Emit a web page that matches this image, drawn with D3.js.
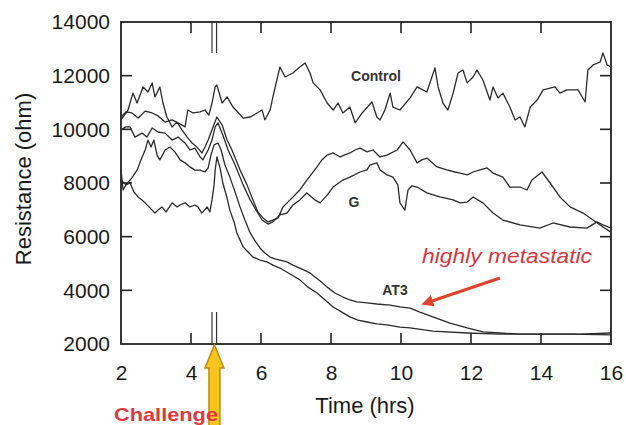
<!DOCTYPE html>
<meta charset="utf-8">
<head>
  <title>Resistance over time</title>
</head>

<style>
body { margin: 0; background: #fff; }
text { font-family: "Liberation Sans", Arial, sans-serif; fill: #1a1a1a; }
.trace { fill: none; stroke: #2b2b2b; stroke-width: 1.3; stroke-linejoin: round; }
.axis path { display: none; }
.axis text { font-size: 21px; fill: #1a1a1a; }
.tick-mark { stroke: #222; stroke-width: 1.6; }
</style>

<body>
  <svg width="626" height="425">
    <defs>
      <marker id="redhead" viewBox="0 0 10 10" refX="6" refY="5" markerWidth="4" markerHeight="4" orient="auto">
        <path d="M0,0 L10,5 L0,10 Z" fill="#e0432c"></path>
      </marker>
    </defs>
    <g></g>
  </svg>

  <script src="https://cdnjs.cloudflare.com/ajax/libs/d3/7.8.5/d3.min.js"></script>
  <script>

// ticks
var xTicks = [2, 4, 6, 8, 10, 12, 14, 16];
var yTicks = [2000, 4000, 6000, 8000, 10000, 12000, 14000];

// challenge given at ~4.6 hrs (double marks at top and bottom)
var challengeHrs = [4.6, 4.73];

// series: [hours, ohm]
var control = [[2.00,10460],[2.14,10650],[2.31,10610],[2.49,10420],[2.69,10680],[2.89,10610],[3.06,10500],
  [3.26,10270],[3.46,10350],[3.63,10240],[3.83,10090],[3.91,10720],[4.06,10610],[4.26,10650],[4.40,10720],
  [4.51,10530],[4.60,10980],[4.69,11580],[4.74,11650],[4.89,10980],[5.03,11210],[5.20,10830],[5.49,10420],
  [5.69,10460],[5.89,10610],[6.03,10720],[6.11,10350],[6.26,10720],[6.34,11210],[6.54,12320],[6.69,11950],
  [6.91,12100],[7.11,12320],[7.26,12470],[7.40,12100],[7.49,11730],[7.69,11470],[7.89,10980],[8.06,10720],
  [8.20,10980],[8.34,10610],[8.54,10830],[8.69,10240],[8.89,10610],[9.17,11020],[9.31,10460],[9.40,10350],
  [9.54,10720],[9.69,11350],[9.77,10830],[9.97,10720],[10.26,11170],[10.46,11580],[10.74,11390],[10.97,12290],
  [11.06,11580],[11.20,10980],[11.34,10720],[11.49,11350],[11.63,12100],[11.77,12210],[11.89,11730],
  [12.06,11950],[12.17,12210],[12.34,11840],[12.54,11090],[12.63,11580],[12.77,11170],[12.91,11350],
  [13.11,10830],[13.26,10350],[13.40,10460],[13.54,10090],[13.69,10830],[13.89,11090],[14.06,11470],
  [14.40,11580],[14.54,11350],[14.74,11470],[15.06,11470],[15.26,11020],[15.34,12210],[15.49,12400],
  [15.69,12510],[15.77,12850],[15.89,12400],[16.00,12320]];

var gUpper = [[2.00,10350],[2.20,10720],[2.34,11350],[2.46,10980],[2.63,11580],[2.77,11390],[2.89,11730],
  [2.97,11210],[3.11,11580],[3.20,10980],[3.31,10460],[3.46,10090],[3.60,10270],[3.74,9980],[3.89,9710],
  [4.03,9490],[4.17,9340],[4.31,9120],[4.40,9340],[4.49,9600],[4.63,10090],[4.74,10460],[4.89,10160],
  [5.03,9600],[5.17,9230],[5.40,8490],[5.60,7930],[5.77,7370],[5.91,6920],[6.06,6700],[6.20,6550],
  [6.34,6620],[6.49,6700],[6.63,7110],[6.83,7370],[7.11,7740],[7.31,8110],[7.60,8600],[7.74,8860],
  [7.89,9040],[8.06,9120],[8.26,8970],[8.54,9120],[8.69,9230],[8.83,9300],[9.03,9160],[9.20,9230],
  [9.40,8970],[9.60,9040],[9.89,9230],[10.06,9530],[10.26,9230],[10.46,8750],[10.60,8860],[10.74,8930],
  [11.03,8600],[11.31,8490],[11.54,8410],[11.69,8370],[11.89,8300],[12.06,8410],[12.26,8490],[12.46,8560],
  [12.63,8370],[12.91,8220],[13.11,7850],[13.40,7850],[13.60,7740],[13.74,8110],[14.03,8410],[14.26,8000],
  [14.54,7480],[14.83,7110],[15.20,6880],[15.49,6620],[15.77,6360],[16.00,6170]];

var gLower = [[2.00,9980],[2.14,10090],[2.26,10090],[2.40,9710],[2.60,9860],[2.74,9710],[2.89,10050],
  [3.06,9900],[3.26,9860],[3.46,9600],[3.63,9710],[3.83,9490],[3.97,9230],[4.11,9300],[4.26,8970],
  [4.34,8860],[4.49,9230],[4.60,9600],[4.69,10090],[4.77,10240],[4.91,9790],[5.06,9230],[5.26,8670],
  [5.49,7930],[5.69,7370],[5.89,6920],[6.03,6620],[6.20,6470],[6.34,6550],[6.54,6810],[6.74,6880],
  [6.91,7180],[7.11,7370],[7.31,7630],[7.54,7370],[7.69,7260],[7.89,7550],[8.06,7850],[8.34,8110],
  [8.54,8220],[8.83,8410],[9.03,8490],[9.11,8670],[9.31,8750],[9.40,8490],[9.60,8300],[9.77,8220],
  [9.91,7930],[9.97,7260],[10.11,6990],[10.20,7740],[10.31,7890],[10.46,7850],[10.74,7630],[11.11,7480],
  [11.49,7370],[11.69,7260],[11.89,7290],[12.06,7480],[12.34,7260],[12.63,6880],[12.91,6620],[13.40,6440],
  [13.97,6320],[14.34,6510],[14.83,6360],[15.31,6320],[15.60,6550],[15.77,6440],[16.00,6320]];

var at3Upper = [[2.00,8110],[2.14,7930],[2.31,8190],[2.46,8480],[2.57,8860],[2.69,9230],[2.77,9600],
  [2.86,9340],[2.94,9600],[3.03,9040],[3.11,8860],[3.26,9230],[3.40,9340],[3.54,9160],[3.69,8860],
  [3.83,8750],[3.97,8600],[4.11,8480],[4.26,8480],[4.40,8410],[4.49,8560],[4.57,9040],[4.66,9420],
  [4.77,9490],[4.86,9230],[4.97,8670],[5.11,8220],[5.26,7660],[5.40,7110],[5.54,6620],[5.69,6140],
  [5.83,5840],[5.97,5580],[6.11,5390],[6.26,5240],[6.40,5170],[6.54,5130],[6.74,5060],[6.91,4940],
  [7.11,4830],[7.40,4650],[7.69,4350],[7.89,4120],[8.11,3900],[8.34,3750],[8.54,3640],[8.74,3570],
  [9.03,3530],[9.31,3490],[9.69,3450],[9.97,3380],[10.26,3340],[10.54,3190],[10.91,3010],[11.40,2780],
  [11.89,2600],[12.34,2450],[12.83,2410],[13.40,2370],[14.26,2370],[15.11,2370],[16.00,2410]];

var at3Lower = [[2.00,8480],[2.06,7740],[2.14,7930],[2.26,8000],[2.37,7660],[2.49,7480],[2.60,7370],
  [2.69,7260],[2.80,7110],[2.89,6990],[2.97,6880],[3.06,6990],[3.17,7110],[3.29,6920],[3.46,7260],
  [3.60,7110],[3.69,7180],[3.83,7260],[3.97,7110],[4.11,7180],[4.20,7110],[4.31,6880],[4.46,7110],
  [4.54,6920],[4.60,7370],[4.66,7930],[4.69,8480],[4.74,8970],[4.83,8560],[4.91,8000],[5.03,7440],
  [5.11,6990],[5.23,6550],[5.31,6140],[5.40,5880],[5.49,5620],[5.63,5430],[5.77,5240],[5.97,5130],
  [6.17,5060],[6.34,4940],[6.54,4830],[6.83,4610],[7.11,4390],[7.34,4120],[7.60,3900],[7.83,3640],
  [8.06,3380],[8.31,3190],[8.54,3010],[8.77,2890],[9.03,2820],[9.31,2750],[9.60,2710],[9.97,2630],
  [10.26,2600],[10.91,2480],[11.89,2410],[12.83,2370],[13.77,2370],[14.83,2370],[16.00,2340]];

var series = [control, gUpper, gLower, at3Upper, at3Lower];

var x = d3.scaleLinear().domain([2, 16]).range([121, 611]);
var y = d3.scaleLinear().domain([2000, 14000]).range([344, 22]);

var svg = d3.select('svg');
var g = svg.select('g');

// tick labels from the axes, tick marks drawn as inward lines below
g.append('g').attr('class', 'axis')
  .attr('transform', 'translate(0,' + y(2000) + ')')
  .call(d3.axisBottom(x).tickValues(xTicks).tickSize(0).tickPadding(21).tickFormat(d3.format('d')));

g.append('g').attr('class', 'axis')
  .attr('transform', 'translate(' + x(2) + ',0)')
  .call(d3.axisLeft(y).tickValues(yTicks).tickSize(0).tickPadding(11).tickFormat(d3.format('d')));

var innerX = xTicks.slice(1, -1);
var innerY = yTicks.slice(1, -1);
var tickLen = 11;

// bottom + top
[y(2000), y(14000)].forEach(function(yy, i) {
  g.selectAll(null).data(innerX).enter().append('line')
    .attr('class', 'tick-mark')
    .attr('x1', function(d) { return x(d); }).attr('x2', function(d) { return x(d); })
    .attr('y1', yy).attr('y2', i === 0 ? yy - tickLen : yy + tickLen);
});
// left + right
[x(2), x(16)].forEach(function(xx, i) {
  g.selectAll(null).data(innerY).enter().append('line')
    .attr('class', 'tick-mark')
    .attr('y1', function(d) { return y(d); }).attr('y2', function(d) { return y(d); })
    .attr('x1', xx).attr('x2', i === 0 ? xx + tickLen : xx - tickLen);
});

// frame
g.append('rect')
  .attr('x', x(2)).attr('y', y(14000))
  .attr('width', x(16) - x(2)).attr('height', y(2000) - y(14000))
  .attr('fill', 'none').attr('stroke', '#222').attr('stroke-width', 1.8);

// challenge double marks
challengeHrs.forEach(function(h) {
  g.append('line').attr('x1', x(h)).attr('x2', x(h)).attr('y1', y(14000)).attr('y2', y(14000) + 31)
    .attr('stroke', '#333').attr('stroke-width', 1.2);
  g.append('line').attr('x1', x(h)).attr('x2', x(h)).attr('y1', y(2000)).attr('y2', y(2000) - 32)
    .attr('stroke', '#333').attr('stroke-width', 1.2);
});

var line = d3.line()
  .x(function(d) { return x(d[0]); })
  .y(function(d) { return y(d[1]); });

g.selectAll('path.trace')
  .data(series)
  .enter()
  .append('path')
  .attr('class', 'trace')
  .attr('d', line);

// curve labels
g.append('text').attr('x', 376).attr('y', 81).attr('text-anchor', 'middle')
  .style('font-size', '14px').style('font-weight', 'bold').style('fill', '#333').text('Control');
g.append('text').attr('x', 354).attr('y', 207).attr('text-anchor', 'middle')
  .style('font-size', '14px').style('font-weight', 'bold').style('fill', '#333').text('G');
g.append('text').attr('x', 395).attr('y', 295).attr('text-anchor', 'middle')
  .style('font-size', '14px').style('font-weight', 'bold').style('fill', '#333').text('AT3');

// axis titles
g.append('text').attr('x', 365).attr('y', 413).attr('text-anchor', 'middle')
  .style('font-size', '22px').text('Time (hrs)');
g.append('text').attr('transform', 'translate(31,179) rotate(-90)').attr('text-anchor', 'middle')
  .style('font-size', '22px').text('Resistance (ohm)');

// highly metastatic annotation
g.append('text').attr('x', 422).attr('y', 263)
  .attr('textLength', 170).attr('lengthAdjust', 'spacingAndGlyphs')
  .style('font-size', '20px').style('font-style', 'italic').style('fill', '#d8363f')
  .text('highly metastatic');
g.append('line').attr('x1', 500).attr('y1', 278).attr('x2', 426).attr('y2', 303)
  .attr('stroke', '#e0432c').attr('stroke-width', 3).attr('marker-end', 'url(#redhead)');

// yellow challenge arrow
var ax = x(4.67), tip = y(2000) + 1;
g.append('path')
  .attr('d', 'M' + ax + ',' + tip + ' L' + (ax + 9.5) + ',' + (tip + 23) + ' L' + (ax + 5.5) + ',' + (tip + 23) +
    ' L' + (ax + 5.5) + ',430 L' + (ax - 5.5) + ',430 L' + (ax - 5.5) + ',' + (tip + 23) +
    ' L' + (ax - 9.5) + ',' + (tip + 23) + ' Z')
  .attr('fill', '#f7c51e').attr('stroke', '#c08a10').attr('stroke-width', 1.5);

g.append('text').attr('x', 114).attr('y', 421)
  .attr('textLength', 104).attr('lengthAdjust', 'spacingAndGlyphs')
  .style('font-size', '19px').style('font-weight', 'bold').style('fill', '#e0393d')
  .text('Challenge');

  </script>
</body>
</html>
